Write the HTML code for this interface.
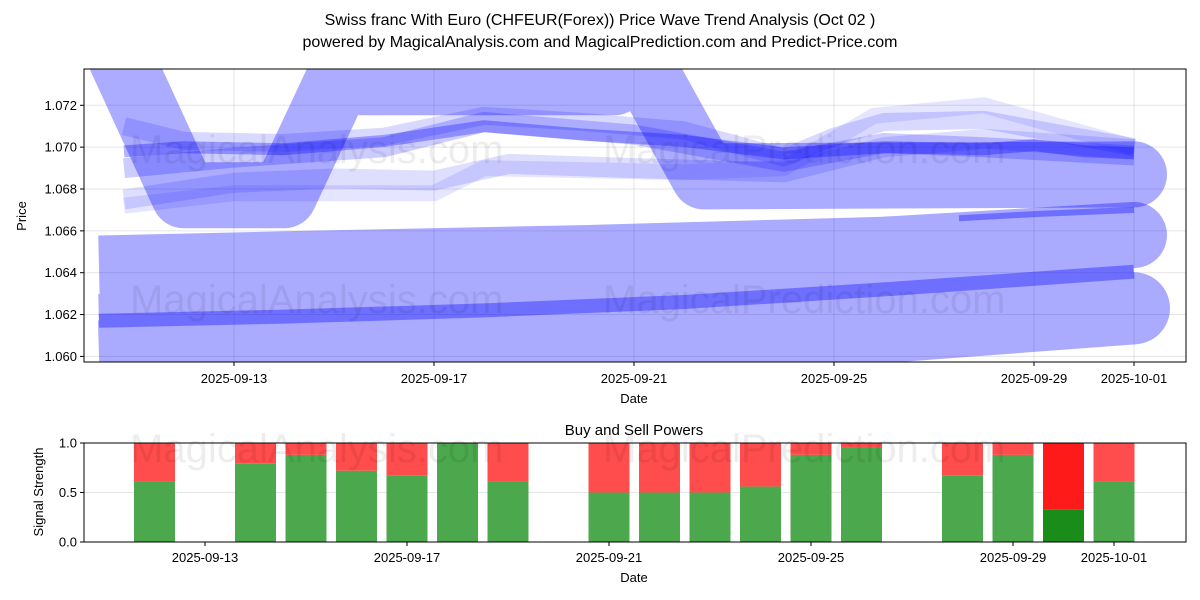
<!DOCTYPE html>
<html><head><meta charset="utf-8"><style>
body{margin:0;background:#fff}
svg{display:block;font-family:"Liberation Sans","DejaVu Sans",sans-serif}
</style></head><body>
<svg id="chart" width="1200" height="600" xmlns="http://www.w3.org/2000/svg">
<defs>
<clipPath id="topclip"><rect x="84" y="69" width="1102" height="293"/></clipPath>
<clipPath id="botclip"><rect x="84" y="443" width="1102" height="99"/></clipPath>
</defs>
<text x="600" y="25" text-anchor="middle" font-size="16">Swiss franc With Euro (CHFEUR(Forex)) Price Wave Trend Analysis (Oct 02 )</text>
<text x="600" y="47" text-anchor="middle" font-size="16">powered by MagicalAnalysis.com and MagicalPrediction.com and Predict-Price.com</text>
<g id="topgrid"></g>
<g id="topplot" clip-path="url(#topclip)">
  <g id="lowband" opacity="0.33"></g>
  <g id="uband" opacity="0.33"></g>
  <g id="thin"></g>
</g>
<g font-size="40" fill="#000" fill-opacity="0.07">
<text x="130" y="163">MagicalAnalysis.com</text><text x="603" y="163">MagicalPrediction.com</text>
<text x="130" y="313">MagicalAnalysis.com</text><text x="603" y="313">MagicalPrediction.com</text>
</g>
<rect x="84" y="69" width="1102" height="293" fill="none" stroke="#000" stroke-width="1"/>
<g id="topaxes" font-size="13"></g>
<text transform="translate(26,216) rotate(-90)" text-anchor="middle" font-size="13">Price</text>
<text x="634" y="403" text-anchor="middle" font-size="13">Date</text>

<text x="634" y="435" text-anchor="middle" font-size="15">Buy and Sell Powers</text>
<g id="botgrid"></g>
<g id="botplot" clip-path="url(#botclip)"></g>
<g font-size="40" fill="#000" fill-opacity="0.07">
<text x="130" y="462">MagicalAnalysis.com</text><text x="603" y="462">MagicalPrediction.com</text>
</g>
<rect x="84" y="443" width="1102" height="99" fill="none" stroke="#000" stroke-width="1"/>
<g id="botaxes" font-size="13"></g>
<text transform="translate(43,492) rotate(-90)" text-anchor="middle" font-size="13">Signal Strength</text>
<text x="634" y="582" text-anchor="middle" font-size="13">Date</text>
</svg>
<script>
const NS="http://www.w3.org/2000/svg";
// ---- data ----
const priceTicks=[1.060,1.062,1.064,1.066,1.068,1.070,1.072];
const dateTickDays=[13,17,21,25,29,31];
const dateTickLabels=["2025-09-13","2025-09-17","2025-09-21","2025-09-25","2025-09-29","2025-10-01"];
// wave series: days (Sept day number, Oct 1 = 31) and prices
const waveUDays=[10.75,12.0,14.0,15.1,15.6,20.6,21.1,22.4,31];
const waveUPrices=[1.0742,1.0677,1.0677,1.0733,1.0731,1.0731,1.0742,1.0686,1.0687];
const waveADays=[10.3,14,20,26,31];
const waveAPrices=[1.0642,1.0644,1.0647,1.0651,1.0658];
const waveBDays=[10.3,16,22,26,31];
const waveBPrices=[1.0600,1.0604,1.0610,1.0614,1.0623];
const waveCDays=[10.3,16,22,26,31];
const waveCPrices=[1.0614,1.0617,1.0622,1.0628,1.0636];
const waveDarkDays=[10.3,14,18,22,26,31];
const waveDarkPrices=[1.0617,1.0619,1.0622,1.0626,1.0632,1.06405];
const waveThinDays=[27.5,29,31];
const waveThinPrices=[1.0666,1.0668,1.0670];
const wave1Days=[10.8,12,14,16,18,20,22,24,26,28,29,30,31];
const wave1Prices=[1.0698,1.0700,1.0699,1.0703,1.0710,1.0706,1.0703,1.0697,1.0700,1.0699,1.0701,1.0698,1.0697];
const wave2Days=[10.8,13,16,18,21,24,26,28,31];
const wave2Prices=[1.0690,1.0695,1.0700,1.0712,1.0706,1.0693,1.0702,1.0700,1.0696];
const wave3Days=[10.8,13,15,17,18.5,21,24,26,28,31];
const wave3Prices=[1.0675,1.0683,1.0685,1.0684,1.0692,1.0690,1.0688,1.0700,1.0704,1.0699];
const wave4Days=[10.8,12,14,16,18,20,22,24,25,26,28,31];
const wave4Prices=[1.0710,1.0703,1.0702,1.0705,1.0715,1.0712,1.0708,1.0695,1.0705,1.0712,1.0713,1.0700];
const wave5Days=[10.8,13,17,18,22,24,25.8,28,31];
const wave5Prices=[1.0672,1.0678,1.0678,1.0690,1.0688,1.0690,1.0715,1.0720,1.0700];
// signal bars
const barDays=[12,14,15,16,17,18,19,21,22,23,24,25,26,28,29,30,31];
const buyValues=[0.61,0.79,0.88,0.72,0.67,1.0,0.61,0.5,0.5,0.5,0.56,0.88,0.95,0.67,0.88,0.33,0.61];
const signalTicks=[0.0,0.5,1.0];

// ---- scales ----
function xTop(d){return 84+(d-10)*50;}
function yTop(p){return 105.3+(1.072-p)/0.002*41.85;}
function xBot(d){return 205+(d-13)*50.5;}
function yBot(v){return 542-v*99;}

function el(tag,attrs,parent){const e=document.createElementNS(NS,tag);for(const k in attrs)e.setAttribute(k,attrs[k]);parent.appendChild(e);return e;}

const tg=document.getElementById('topgrid'),ta=document.getElementById('topaxes');
priceTicks.forEach(p=>{
  const y=yTop(p);
  const g=el('line',{x1:84,x2:1186,y1:y,y2:y,stroke:'#000','stroke-opacity':0.1},tg);
  
  
  const t=el('line',{x1:80,x2:84,y1:y,y2:y,stroke:'#000'},ta);
  
  
  const l=el('text',{x:77,y:y+4.5,'text-anchor':'end'},ta);
  l.textContent=p.toFixed(3);
  
  
});
dateTickDays.forEach((d,i)=>{
  const x=xTop(d);
  const g=el('line',{x1:x,x2:x,y1:69,y2:362,stroke:'#000','stroke-opacity':0.1},tg);
  
  
  const t=el('line',{x1:x,x2:x,y1:362,y2:366,stroke:'#000'},ta);
  
  
  const l=el('text',{x:x,y:383,'text-anchor':'middle'},ta);
  l.textContent=dateTickLabels[i];
  
  
});

function pts(days,prices){return days.map((d,i)=>xTop(d).toFixed(1)+','+yTop(prices[i]).toFixed(1)).join(' ');}
function wave(parent,days,prices,w,op,endCap,name){
  const e=el('polyline',{points:pts(days,prices),fill:'none',stroke:'#0000ff','stroke-width':w,'stroke-opacity':op,'stroke-linejoin':'round','stroke-linecap':'butt'},parent);
  
  
  if(endCap){
    const n=days.length-1;
    const c=el('circle',{cx:xTop(days[n]),cy:yTop(prices[n]),r:w/2,fill:'#0000ff','fill-opacity':op},parent);
    
    
  }
}
const low=document.getElementById('lowband'),ub=document.getElementById('uband'),th=document.getElementById('thin');
wave(low,waveCDays,waveCPrices,66,1,false,'wave-c');
wave(low,waveBDays,waveBPrices,72,1,true,'wave-b');
wave(low,waveADays,waveAPrices,66,1,true,'wave-a');
wave(th,waveDarkDays,waveDarkPrices,14,0.35,false,'wave-dark');
wave(th,waveThinDays,waveThinPrices,6,0.35,false,'wave-thin');
const u=el('polyline',{points:pts(waveUDays,waveUPrices),fill:'none',stroke:'#0000ff','stroke-width':66,'stroke-linejoin':'round','stroke-linecap':'round'},ub);


wave(th,wave5Days,wave5Prices,16,0.1,false,'wave-5');
wave(th,wave3Days,wave3Prices,20,0.13,false,'wave-3');
wave(th,wave4Days,wave4Prices,18,0.15,false,'wave-4');
wave(th,wave2Days,wave2Prices,20,0.2,false,'wave-2');
wave(th,wave1Days,wave1Prices,12,0.3,false,'wave-1');

// bottom chart
const bg=document.getElementById('botgrid'),ba=document.getElementById('botaxes'),bp=document.getElementById('botplot');
signalTicks.forEach(v=>{
  const y=yBot(v);
  const g=el('line',{x1:84,x2:1186,y1:y,y2:y,stroke:'#000','stroke-opacity':0.1},bg);
  
  
  const t=el('line',{x1:80,x2:84,y1:y,y2:y,stroke:'#000'},ba);
  
  
  const l=el('text',{x:77,y:y+4.5,'text-anchor':'end'},ba);
  l.textContent=v.toFixed(1);
  
  
});
dateTickDays.forEach((d,i)=>{
  const x=xBot(d);
  const t=el('line',{x1:x,x2:x,y1:542,y2:546,stroke:'#000'},ba);
  
  
  const l=el('text',{x:x,y:562,'text-anchor':'middle'},ba);
  l.textContent=dateTickLabels[i];
  
  
});
barDays.forEach((d,i)=>{
  const v=buyValues[i];
  const x=xBot(d)-20.5;
  const strong=v<0.4;
  const g=el('rect',{x:x,y:yBot(v),width:41,height:yBot(0)-yBot(v),fill:strong?'#1a8c1a':'#4ca84c'},bp);
  
  
  const r=el('rect',{x:x,y:yBot(1),width:41,height:yBot(v)-yBot(1),fill:strong?'#ff1a1a':'#ff4c4c'},bp);
  
  
});
</script>
</body></html>
